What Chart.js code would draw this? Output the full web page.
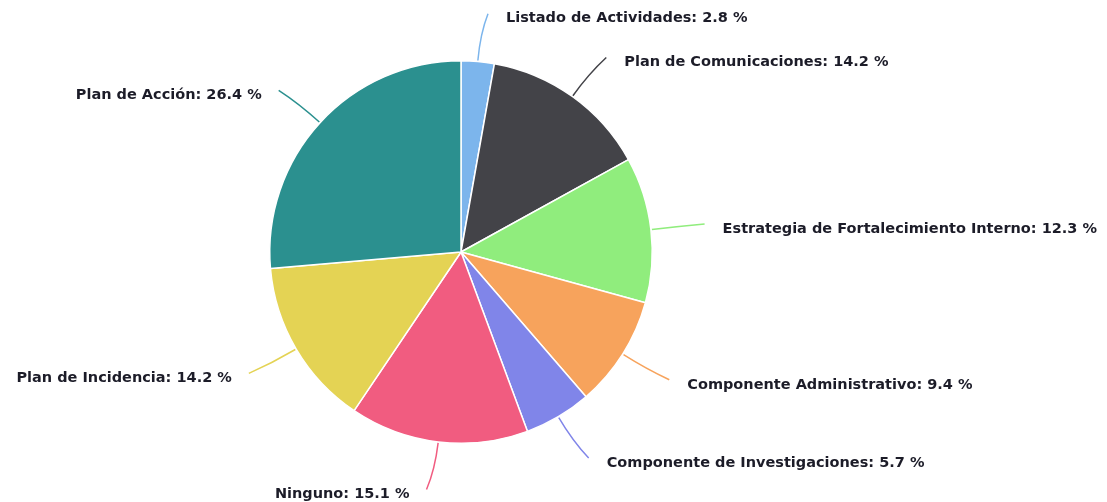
<!DOCTYPE html>
<html>
<head>
<meta charset="utf-8">
<script src="https://cdn.jsdelivr.net/npm/chart.js@4/dist/chart.umd.min.js"></script>
<style>
  html, body { margin: 0; padding: 0; background: #ffffff; }
  #wrap { width: 1107px; height: 502px; position: relative; }
</style>
</head>
<body>
<div id="wrap"><canvas id="c" width="1107" height="502"></canvas></div>
<script>
const categories = [
  "Listado de Actividades",
  "Plan de Comunicaciones",
  "Estrategia de Fortalecimiento Interno",
  "Componente Administrativo",
  "Componente de Investigaciones",
  "Ninguno",
  "Plan de Incidencia",
  "Plan de Acción"
];
const values = [2.8, 14.2, 12.3, 9.4, 5.7, 15.1, 14.2, 26.4];
const colors = ["#7cb5ec", "#434348", "#90ed7d", "#f7a35c", "#8085e9", "#f15c80", "#e4d354", "#2b908f"];

const labelPlugin = {
  id: 'pieLabels',
  afterDatasetsDraw(chart) {
    const ctx = chart.ctx;
    const meta = chart.getDatasetMeta(0);
    ctx.save();
    ctx.font = 'bold 14.5px "DejaVu Sans", sans-serif';
    ctx.textBaseline = 'middle';
    meta.data.forEach((arc, i) => {
      const mid = (arc.startAngle + arc.endAngle) / 2;
      const r = arc.outerRadius;
      const cx = arc.x, cy = arc.y;
      const cos = Math.cos(mid), sin = Math.sin(mid);
      const p0 = [cx + cos * (r + 1), cy + sin * (r + 1)];
      const p1 = [cx + cos * (r + 28), cy + sin * (r + 28)];
      const p2 = [cx + cos * (r + 48), cy + sin * (r + 48)];
      const right = cos >= 0;
      const endX = p2[0] + (right ? 6 : -6);
      const endY = p2[1];
      ctx.strokeStyle = colors[i];
      ctx.lineWidth = 1.5;
      ctx.beginPath();
      ctx.moveTo(p0[0], p0[1]);
      ctx.quadraticCurveTo(p1[0], p1[1], endX, endY);
      ctx.stroke();
      const txt = categories[i] + ': ' + values[i].toFixed(1) + ' %';
      ctx.fillStyle = '#1c1c28';
      ctx.textAlign = right ? 'left' : 'right';
      ctx.fillText(txt, endX + (right ? 18 : -17), endY + 5);
    });
    ctx.restore();
  }
};

new Chart(document.getElementById('c'), {
  type: 'pie',
  data: {
    labels: categories,
    datasets: [{
      data: values,
      backgroundColor: colors,
      borderColor: '#ffffff',
      borderWidth: 1.5,
      hoverOffset: 0
    }]
  },
  options: {
    responsive: false,
    animation: false,
    layout: { padding: { top: 60, bottom: 58, left: 0, right: 185 } },
    plugins: {
      legend: { display: false },
      tooltip: { enabled: false },
      title: { display: false }
    }
  },
  plugins: [labelPlugin]
});
</script>
</body>
</html>
